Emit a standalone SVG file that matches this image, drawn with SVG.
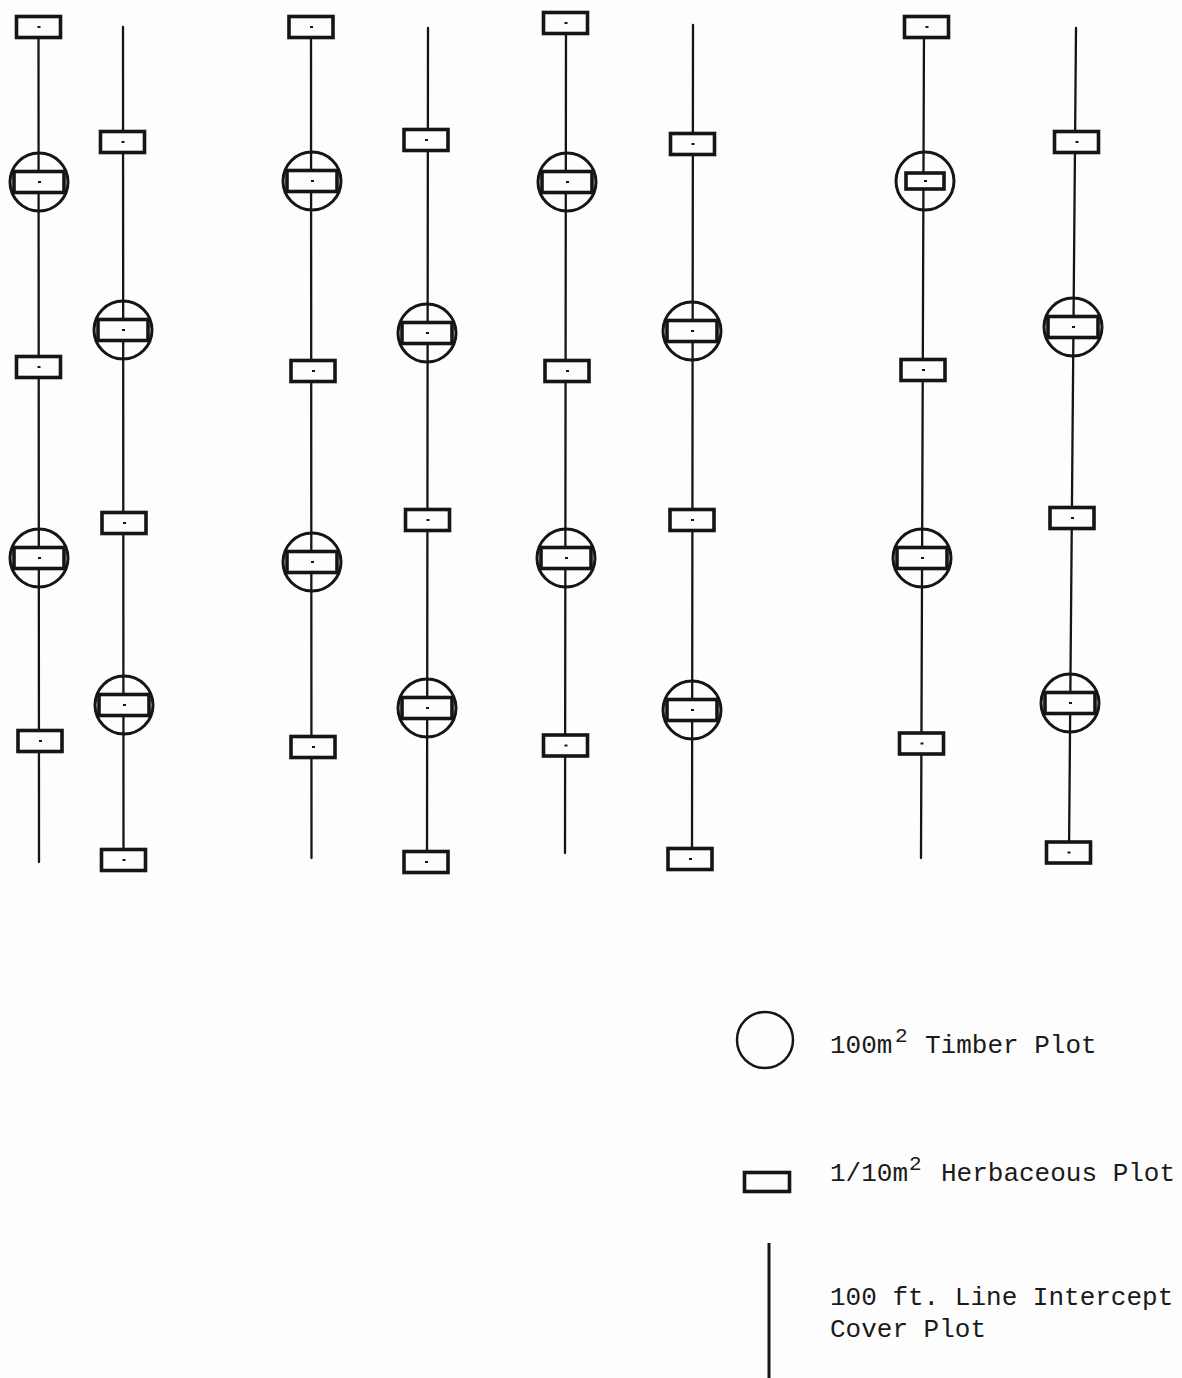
<svg xmlns="http://www.w3.org/2000/svg" xmlns:xlink="http://www.w3.org/1999/xlink" width="1182" height="1378" viewBox="0 0 1182 1378">
<style>
.bg{fill:#fdfdfd}
.conn line{stroke:#151515;stroke-width:2.3;stroke-linecap:round}
.box{fill:#fdfdfd;stroke:#151515;stroke-width:3.6}
.ring{fill:none;stroke:#151515;stroke-width:3}
.tick{stroke:#151515;stroke-width:2}
.lbl{font-family:"Liberation Mono","Courier New",monospace;font-size:26px;fill:#1a1a1a}
.sup{font-family:"Liberation Mono","Courier New",monospace;font-size:21px;fill:#1a1a1a}
</style>
<defs>
<g id="herb"><rect x="-22" y="-10.5" width="44" height="21" class="box"/><line x1="-1" y1="0" x2="2" y2="0" class="tick"/></g>
<g id="timber"><circle r="29" class="ring"/><rect x="-25" y="-10.5" width="50" height="21" class="box"/><line x1="-1" y1="0" x2="2" y2="0" class="tick"/></g>
<g id="timberS"><circle r="29" class="ring"/><rect x="-19" y="-8" width="38" height="16" class="box"/><line x1="-1" y1="0" x2="2" y2="0" class="tick"/></g>
</defs>
<rect class="bg" x="0" y="0" width="1182" height="1378"/>
<g id="connectors" class="conn">
<line x1="38.5" y1="27" x2="39" y2="862"/>
<line x1="123" y1="27" x2="123.5" y2="858"/>
<line x1="311" y1="27" x2="311.5" y2="858"/>
<line x1="428" y1="28" x2="427" y2="862"/>
<line x1="566" y1="23" x2="565" y2="853"/>
<line x1="693" y1="25" x2="692" y2="858"/>
<line x1="924" y1="27" x2="921" y2="858"/>
<line x1="1076" y1="28" x2="1069" y2="852"/>
</g>
<g id="line1-nodes">
<g id="h1a" transform="translate(38.5,27)"><use xlink:href="#herb"/></g>
<g id="t1a" transform="translate(39,182)"><use xlink:href="#timber"/></g>
<g id="h1b" transform="translate(38.5,367)"><use xlink:href="#herb"/></g>
<g id="t1b" transform="translate(39,558)"><use xlink:href="#timber"/></g>
<g id="h1c" transform="translate(40,741)"><use xlink:href="#herb"/></g>
</g>
<g id="line2-nodes">
<g id="h2a" transform="translate(122.5,142)"><use xlink:href="#herb"/></g>
<g id="t2a" transform="translate(123,330)"><use xlink:href="#timber"/></g>
<g id="h2b" transform="translate(124,523)"><use xlink:href="#herb"/></g>
<g id="t2b" transform="translate(124,705)"><use xlink:href="#timber"/></g>
<g id="h2c" transform="translate(123.5,860)"><use xlink:href="#herb"/></g>
</g>
<g id="line3-nodes">
<g id="h3a" transform="translate(311,27)"><use xlink:href="#herb"/></g>
<g id="t3a" transform="translate(312,181)"><use xlink:href="#timber"/></g>
<g id="h3b" transform="translate(313,371)"><use xlink:href="#herb"/></g>
<g id="t3b" transform="translate(312,562)"><use xlink:href="#timber"/></g>
<g id="h3c" transform="translate(313,747)"><use xlink:href="#herb"/></g>
</g>
<g id="line4-nodes">
<g id="h4a" transform="translate(426,140)"><use xlink:href="#herb"/></g>
<g id="t4a" transform="translate(427,333)"><use xlink:href="#timber"/></g>
<g id="h4b" transform="translate(427.5,520)"><use xlink:href="#herb"/></g>
<g id="t4b" transform="translate(427,708)"><use xlink:href="#timber"/></g>
<g id="h4c" transform="translate(426,862)"><use xlink:href="#herb"/></g>
</g>
<g id="line5-nodes">
<g id="h5a" transform="translate(565.5,23)"><use xlink:href="#herb"/></g>
<g id="t5a" transform="translate(567,182)"><use xlink:href="#timber"/></g>
<g id="h5b" transform="translate(567,371)"><use xlink:href="#herb"/></g>
<g id="t5b" transform="translate(566,558)"><use xlink:href="#timber"/></g>
<g id="h5c" transform="translate(565.5,745.5)"><use xlink:href="#herb"/></g>
</g>
<g id="line6-nodes">
<g id="h6a" transform="translate(692.5,144)"><use xlink:href="#herb"/></g>
<g id="t6a" transform="translate(692,331)"><use xlink:href="#timber"/></g>
<g id="h6b" transform="translate(692,520)"><use xlink:href="#herb"/></g>
<g id="t6b" transform="translate(692,710)"><use xlink:href="#timber"/></g>
<g id="h6c" transform="translate(690,859)"><use xlink:href="#herb"/></g>
</g>
<g id="line7-nodes">
<g id="h7a" transform="translate(926.5,27)"><use xlink:href="#herb"/></g>
<g id="t7a" transform="translate(925,181)"><use xlink:href="#timberS"/></g>
<g id="h7b" transform="translate(923,370)"><use xlink:href="#herb"/></g>
<g id="t7b" transform="translate(922,558)"><use xlink:href="#timber"/></g>
<g id="h7c" transform="translate(921.5,743.5)"><use xlink:href="#herb"/></g>
</g>
<g id="line8-nodes">
<g id="h8a" transform="translate(1076.5,142)"><use xlink:href="#herb"/></g>
<g id="t8a" transform="translate(1073,327)"><use xlink:href="#timber"/></g>
<g id="h8b" transform="translate(1072,518)"><use xlink:href="#herb"/></g>
<g id="t8b" transform="translate(1070,703)"><use xlink:href="#timber"/></g>
<g id="h8c" transform="translate(1068.5,852.5)"><use xlink:href="#herb"/></g>
</g>
<g id="legend">
<g id="legend-timber">
<circle cx="765" cy="1040" r="28" class="ring" style="stroke-width:2.5"/>
<text class="lbl" x="830" y="1053">100m</text><text class="sup" x="895" y="1042">2</text><text class="lbl" x="925" y="1053">Timber Plot</text>
</g>
<g id="legend-herb">
<rect x="744.5" y="1172.5" width="45" height="19" class="box"/>
<text class="lbl" x="830" y="1181">1/10m</text><text class="sup" x="909" y="1170">2</text><text class="lbl" x="941" y="1181">Herbaceous Plot</text>
</g>
<g id="legend-line">
<line x1="769" y1="1243" x2="769" y2="1378" stroke="#151515" stroke-width="3"/>
<text class="lbl" x="830" y="1305">100 ft. Line Intercept</text>
<text class="lbl" x="830" y="1337">Cover Plot</text>
</g>
</g>
</svg>
